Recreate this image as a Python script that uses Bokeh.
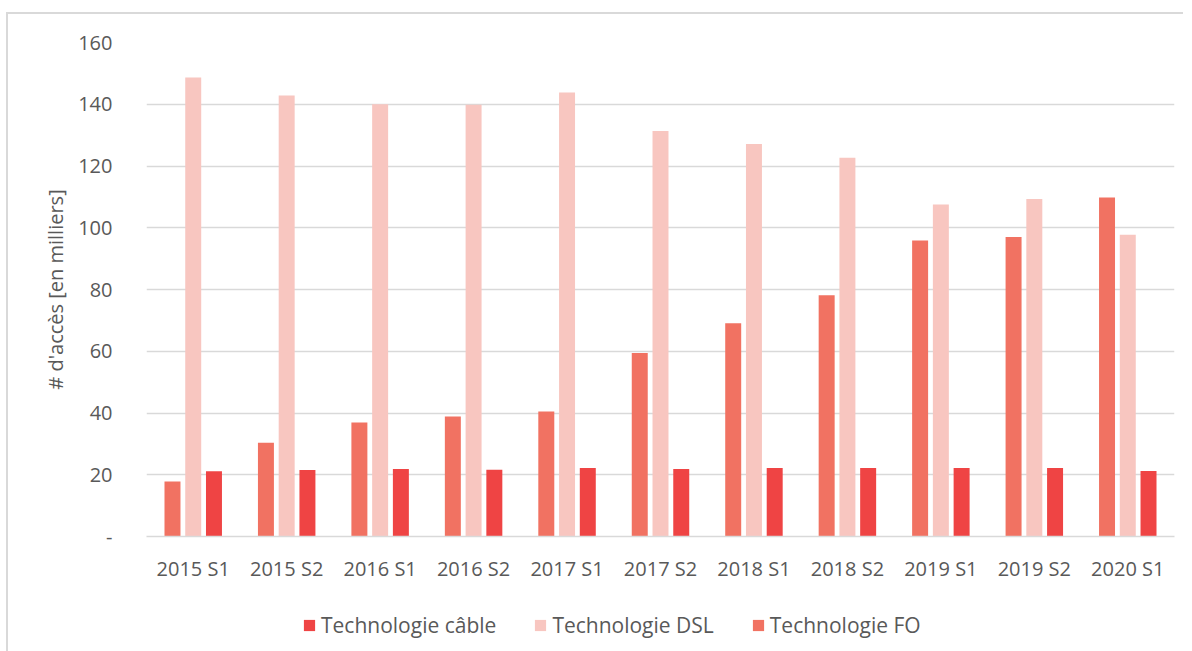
from bokeh.plotting import figure
from bokeh.models import ColumnDataSource, FactorRange, Legend, LegendItem, FixedTicker
from bokeh.layouts import column
from bokeh.transform import dodge
from bokeh.embed import file_html
from bokeh.resources import INLINE

periods = ["2015 S1", "2015 S2", "2016 S1", "2016 S2", "2017 S1", "2017 S2",
           "2018 S1", "2018 S2", "2019 S1", "2019 S2", "2020 S1"]
fo = [17.8, 30.4, 36.9, 38.9, 40.5, 59.4, 69.1, 78.1, 95.9, 97.0, 109.8]
dsl = [148.7, 142.8, 140.0, 139.8, 143.8, 131.3, 127.1, 122.7, 107.5, 109.3, 97.7]
cable = [21.1, 21.5, 21.9, 21.6, 22.2, 21.9, 22.2, 22.2, 22.2, 22.2, 21.2]
series_names = ["Technologie câble", "Technologie DSL", "Technologie FO"]
y_ticks = [0, 20, 40, 60, 80, 100, 120, 140, 160]

C_CABLE = "#EF4444"
C_DSL = "#F8C6C0"
C_FO = "#F17262"
TXT = "#595959"
FONT = "Open Sans"

src = ColumnDataSource(dict(period=periods, fo=fo, dsl=dsl, cable=cable))

p = figure(x_range=FactorRange(*periods), y_range=(0, 160),
           frame_width=1028, frame_height=494, output_backend="svg", toolbar_location=None,
           min_border_left=138, min_border_right=9, min_border_top=28, min_border_bottom=0)
p.outline_line_color = None
p.background_fill_color = "white"
p.border_fill_color = "white"

bw = 0.171
off = 0.222
r_fo = p.vbar(x=dodge("period", -off, range=p.x_range), top="fo", width=bw, source=src,
              fill_color=C_FO, line_color=None)
r_dsl = p.vbar(x=dodge("period", 0.0, range=p.x_range), top="dsl", width=bw, source=src,
               fill_color=C_DSL, line_color=None)
r_cable = p.vbar(x=dodge("period", off, range=p.x_range), top="cable", width=bw, source=src,
                 fill_color=C_CABLE, line_color=None)

p.xgrid.grid_line_color = None
p.ygrid.grid_line_color = "#D9D9D9"
p.ygrid.grid_line_width = 1.5
p.yaxis.ticker = FixedTicker(ticks=y_ticks)
p.yaxis.major_label_overrides = {0: "-"}

for ax in (p.xaxis[0], p.yaxis[0]):
    ax.major_tick_line_color = None
    ax.minor_tick_line_color = None
    ax.major_label_text_font = FONT
    ax.major_label_text_font_size = "20px"
    ax.major_label_text_color = TXT
p.yaxis.axis_line_color = None
p.xaxis.axis_line_color = "#D9D9D9"
p.xaxis.axis_line_width = 1.5
p.xaxis.major_label_standoff = 12
p.yaxis.major_label_standoff = 28
p.yaxis.axis_label = "# d'accès [en milliers]"
p.yaxis.axis_label_text_font = FONT
p.yaxis.axis_label_text_font_size = "20px"
p.yaxis.axis_label_text_font_style = "normal"
p.yaxis.axis_label_text_color = TXT
p.yaxis.axis_label_standoff = 6

# legend strip below the chart (its renderers lie outside its visible y range)
lg = figure(width=1175, height=68, x_range=FactorRange(*periods), y_range=(1000, 1001),
            output_backend="svg", toolbar_location=None,
            min_border=0, min_border_left=0, min_border_right=0,
            min_border_top=0, min_border_bottom=0)
lg.axis.visible = False
lg.grid.visible = False
lg.outline_line_color = None
lg.border_fill_color = "white"
lg.background_fill_color = "white"
k_cable = lg.vbar(x="period", top="cable", width=0.1, source=src, fill_color=C_CABLE, line_color=None)
k_dsl = lg.vbar(x="period", top="dsl", width=0.1, source=src, fill_color=C_DSL, line_color=None)
k_fo = lg.vbar(x="period", top="fo", width=0.1, source=src, fill_color=C_FO, line_color=None)

legend = Legend(items=[
    LegendItem(label=series_names[0], renderers=[k_cable]),
    LegendItem(label=series_names[1], renderers=[k_dsl]),
    LegendItem(label=series_names[2], renderers=[k_fo]),
], orientation="horizontal", location=(156, 13))
legend.label_text_font = FONT
legend.label_text_font_size = "21px"
legend.label_text_color = TXT
legend.glyph_width = 14
legend.glyph_height = 14
legend.label_standoff = 5
legend.spacing = 37
legend.padding = 0
legend.margin = 0
legend.border_line_color = None
legend.background_fill_alpha = 0
lg.add_layout(legend, "center")

layout = column(p, lg, spacing=0)
layout.styles = {"margin-top": "12px", "margin-left": "6px",
                 "border-top": "2px solid #D9D9D9", "border-left": "2px solid #D9D9D9"}

open("out.html", "w").write(file_html(layout, INLINE))
